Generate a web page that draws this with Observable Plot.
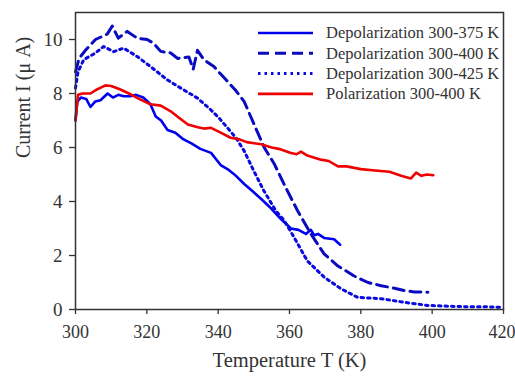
<!DOCTYPE html>
<html>
<head>
<meta charset="utf-8">
<script src="https://cdn.jsdelivr.net/npm/d3@7"></script>
<script src="https://cdn.jsdelivr.net/npm/@observablehq/plot@0.6"></script>
<style>
  html, body { margin: 0; padding: 0; background: #fff; }
  #chart { position: relative; width: 515px; height: 378px; }
</style>
</head>
<body>
<div id="chart"></div>
<script>
// ---- data ----
const seriesNames = ["Depolarization 300-375 K", "Depolarization 300-400 K", "Depolarization 300-425 K", "Polarization 300-400 K"];

const dep375T = [300, 300.5, 301.5, 303, 304.2, 305.5, 307, 309, 310.5, 312, 313.5, 315.4, 317, 319, 321, 322.5, 324, 325.8, 328, 330.3, 332.5, 335, 338, 340.7, 342.6, 345, 347.3, 349.5, 352, 354.8, 357.6, 360.4, 362.5, 364.6, 366, 366.9, 368, 369.7, 372.5, 374.2];
const dep375I = [7.0, 7.7, 7.85, 7.8, 7.5, 7.7, 7.75, 8.0, 7.85, 7.95, 7.9, 7.9, 7.95, 7.85, 7.6, 7.15, 7.0, 6.65, 6.55, 6.3, 6.15, 5.95, 5.8, 5.35, 5.2, 4.95, 4.65, 4.4, 4.1, 3.75, 3.35, 3.0, 2.95, 2.8, 2.95, 2.75, 2.8, 2.65, 2.6, 2.4];

const dep400T = [300, 301, 302.8, 305.6, 308.9, 310.3, 312, 314.5, 317.3, 320.1, 321.9, 323.9, 326.7, 328.6, 331.8, 333, 334.2, 336, 338.8, 340.5, 342.6, 345, 347.3, 350.1, 352.9, 355.7, 359, 362.3, 366, 369.7, 373.5, 378, 382, 385.7, 389, 392.2, 395, 398.8];
const dep400I = [8.8, 9.3, 9.6, 10.0, 10.2, 10.5, 10.05, 10.3, 10.05, 10.0, 9.86, 9.56, 9.5, 9.3, 9.35, 8.9, 9.6, 9.25, 9.0, 8.75, 8.45, 8.1, 7.7, 6.85, 6.0, 5.4, 4.5, 3.65, 2.8, 2.06, 1.62, 1.25, 1.0, 0.88, 0.8, 0.7, 0.65, 0.64];

const dep425T = [300, 300.7, 302.3, 305.6, 307.9, 310.7, 313.5, 317.3, 321, 325.8, 329.5, 334.2, 337.9, 340.2, 342.6, 345, 347.3, 350, 352.8, 356.2, 358.5, 361.3, 365, 369.7, 374.4, 379.1, 385.7, 392, 398.8, 405, 410, 415, 420];
const dep425I = [8.2, 8.8, 9.25, 9.5, 9.74, 9.55, 9.68, 9.37, 9.0, 8.5, 8.2, 7.83, 7.4, 7.1, 6.73, 6.35, 5.87, 5.13, 4.4, 3.65, 3.3, 2.67, 1.8, 1.2, 0.77, 0.45, 0.4, 0.27, 0.15, 0.12, 0.1, 0.1, 0.08];

const pol400T = [300, 300.7, 302, 304.2, 306, 308.4, 310, 312.6, 315, 317.4, 321, 323.9, 326.7, 329, 331.5, 334.3, 336, 338, 340.7, 343.5, 346, 348, 352, 355, 357, 360.4, 362, 363.2, 365, 368.8, 371, 373.6, 376, 380, 384, 388, 391.3, 394, 395.5, 397, 398.5, 400.3];
const pol400I = [7.0, 7.95, 8.0, 8.0, 8.15, 8.3, 8.28, 8.15, 8.0, 7.83, 7.6, 7.55, 7.34, 7.1, 6.85, 6.75, 6.7, 6.73, 6.55, 6.36, 6.3, 6.2, 6.12, 6.0, 5.95, 5.8, 5.75, 5.85, 5.7, 5.55, 5.5, 5.3, 5.3, 5.2, 5.15, 5.1, 4.95, 4.85, 5.07, 4.95, 5.0, 4.97];

const xTicks = [300, 320, 340, 360, 380, 400, 420];
const yTicks = [0, 2, 4, 6, 8, 10];
const xLabel = "Temperature T (K)";
const yLabel = "Current I (\u03bc A)";

// ---- styles ----
const serif = "'Liberation Serif', 'Times New Roman', serif";
const styles = [
  {color: "#0000f0", dash: null, width: 2.6},
  {color: "#0a0ac0", dash: "11,6", width: 3},
  {color: "#0a0ae0", dash: "2.5,4", width: 3},
  {color: "#f00000", dash: null, width: 2.6}
];

const toRows = (T, I) => T.map((t, i) => ({T: t, I: I[i]}));
const data = [toRows(dep375T, dep375I), toRows(dep400T, dep400I), toRows(dep425T, dep425I), toRows(pol400T, pol400I)];

const lineMarks = data.map((rows, k) => Plot.line(rows, {
  x: "T", y: "I",
  stroke: styles[k].color,
  strokeWidth: styles[k].width,
  strokeDasharray: styles[k].dash,
  curve: "linear"
}));

const chart = Plot.plot({
  width: 515,
  height: 378,
  marginLeft: 75,
  marginRight: 12,
  marginTop: 12,
  marginBottom: 69,
  style: {fontFamily: serif, fontSize: "19px", color: "#333", background: "#fff"},
  x: {domain: [300, 420], ticks: xTicks},
  y: {domain: [0, 11], ticks: yTicks},
  marks: [
    ...lineMarks,
    Plot.axisX({ticks: xTicks, tickSize: 5, tickPadding: 11, label: null, fontSize: 18, strokeWidth: 1.3,
      textAnchor: "middle"}),
    Plot.axisY({ticks: yTicks, tickSize: 6, tickPadding: 7, label: null, fontSize: 19, strokeWidth: 1.3}),
    Plot.text([xLabel], {frameAnchor: "bottom", dy: 57, fontSize: 20.5, fill: "#333"}),
    Plot.text([yLabel], {frameAnchor: "left", rotate: -90, dx: -52, dy: -3, fontSize: 20, fill: "#333"}),
    Plot.frame({stroke: "#333", strokeWidth: 1.5})
  ]
});

document.getElementById("chart").appendChild(chart);

// keep the last x tick label inside the window
const svg = d3.select(chart);
svg.selectAll("[aria-label='x-axis tick label'] text")
  .filter(function () { return this.textContent === "420"; })
  .attr("dx", -1.5);

// ---- legend inside the plot, upper right ----
const leg = svg.append("g").attr("transform", "translate(258,33)");
seriesNames.forEach((name, i) => {
  const g = leg.append("g").attr("transform", `translate(0,${i * 20.3})`);
  g.append("line").attr("x1", 0).attr("x2", 55).attr("y1", 0).attr("y2", 0)
    .attr("stroke", styles[i].color).attr("stroke-width", styles[i].width)
    .attr("stroke-dasharray", styles[i].dash);
  g.append("text").attr("x", 68).attr("y", 0).attr("dy", "0.32em")
    .attr("text-anchor", "start")
    .attr("fill", "#333").attr("font-size", 16.5)
    .attr("font-family", serif)
    .text(name);
});
</script>
</body>
</html>
